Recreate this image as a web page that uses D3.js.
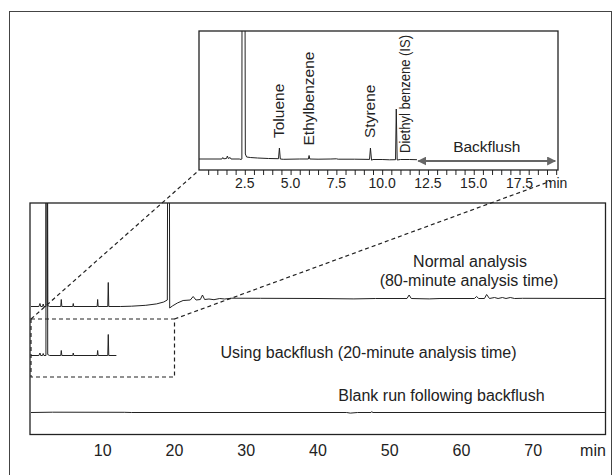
<!DOCTYPE html>
<html>
<head>
<meta charset="utf-8">
<script src="https://cdn.jsdelivr.net/npm/d3@7"></script>
<style>
  body { margin: 0; background: #fff; }
  svg { display: block; font-family: "Liberation Sans", Arial, Helvetica, sans-serif; }
</style>
</head>
<body>
<svg id="chart" width="614" height="475"></svg>
<script>
// ---- data (time in min, signal in arbitrary units) ----
const mainTicks = [10, 20, 30, 40, 50, 60, 70];
const insetTicks = [2.5, 5.0, 7.5, 10.0, 12.5, 15.0, 17.5];

// normal analysis, 80 min run
const normalRun = [
  [0, 128], [1.1, 128], [1.25, 131], [1.35, 128], [1.6, 128], [1.7, 130.5], [1.8, 128],
  [2.08, 128], [2.1, 300], [2.3, 300], [2.33, 129], [2.6, 128],
  [4.15, 128], [4.22, 135], [4.3, 128], [5.82, 128], [5.89, 131], [5.96, 128],
  [9.22, 128], [9.29, 135], [9.36, 128], [10.7, 128], [10.77, 152], [10.84, 128],
  [12.5, 128], [14, 128.3], [16, 129.2], [17.5, 130.6], [18.5, 132.5], [19.0, 134.5],
  [19.05, 300], [19.28, 300], [19.33, 126.5], [19.7, 128.5], [20.4, 131.5], [21.2, 134],
  [22.2, 134.5], [22.6, 138], [23.0, 134.5], [23.6, 135], [23.9, 139.5], [24.2, 135],
  [24.8, 135.5], [25.5, 134.8], [26.3, 136], [27, 135.5], [28, 136.3], [32, 136.2],
  [40, 136], [45, 135.6], [48, 136], [52.4, 136], [52.7, 139.5], [53.0, 136],
  [55.5, 135.6], [57, 136], [61.8, 136], [62.1, 138], [62.4, 136], [63.2, 136],
  [63.5, 140], [63.9, 136], [64.6, 137], [65.1, 136], [65.7, 137], [66.2, 136],
  [66.8, 137], [67.4, 136], [68.5, 136.2], [80, 136]
];

// backflush run, analysis stops at ~12 min
const backflushRun = [
  [0, 79], [1.1, 79], [1.25, 81.5], [1.35, 79], [1.6, 79], [1.7, 81], [1.8, 79],
  [2.08, 79], [2.1, 300], [2.3, 300], [2.33, 80], [2.6, 79],
  [4.15, 79], [4.22, 84], [4.3, 79], [5.82, 79], [5.89, 81.5], [5.96, 79],
  [9.22, 79], [9.29, 84], [9.36, 79], [10.7, 79], [10.77, 100], [10.84, 79], [11.9, 79]
];

// blank run following backflush
const blankRun = [
  [0, 22], [3, 22.3], [13, 22.2], [14, 22], [44, 22], [44.5, 21.4], [45.5, 22],
  [47.4, 22], [47.5, 23], [47.6, 22], [80, 22]
];

// inset: zoom of the backflush run (0-20 min)
const insetRun = [
  [0, 11], [1.25, 11], [1.3, 12.5], [1.35, 11.2], [1.5, 11.5], [1.55, 14], [1.6, 11.5],
  [1.7, 12.5], [1.75, 11], [2.2, 11], [2.3, 10.5], [2.34, 11], [2.35, 200], [2.51, 200],
  [2.53, 16], [2.6, 13], [2.8, 12.5], [3.2, 12], [3.8, 11.5], [4.34, 11.3], [4.39, 22],
  [4.44, 11], [4.6, 10.7], [5.5, 11], [5.97, 11], [6.01, 14.5], [6.05, 11], [6.5, 10.8],
  [7.2, 11], [7.5, 11.2], [7.6, 10.8], [8.5, 10.8], [9.31, 10.6], [9.36, 22], [9.42, 9.8],
  [9.5, 10.5], [10.0, 10.5], [10.4, 10.2], [10.73, 10.3], [10.77, 61], [10.82, 10],
  [11.0, 10.5], [11.5, 10.5], [11.9, 10.3]
];

const compounds = ["Toluene", "Ethylbenzene", "Styrene", "Diethyl benzene (IS)"];
const compoundTimes = [4.39, 6.01, 9.36, 10.77];
const backflushRange = [11.97, 19.45];
const zoomWindow = [0, 20];

// ---- layout ----
const svg = d3.select("#chart");
const ink = "#222";

const mx = d3.scaleLinear().domain([0, 80]).range([31, 605]);
const my = d3.scaleLinear().domain([0, 231.5]).range([434.5, 203]);
const ix = d3.scaleLinear().domain([0, 19.6]).range([199, 558]);
const iy = d3.scaleLinear().domain([0, 139]).range([170, 31]);

// outer frame
svg.append("rect")
  .attr("x", 9.5).attr("y", 11.5).attr("width", 602).attr("height", 470)
  .attr("fill", "none").attr("stroke", "#444").attr("stroke-width", 1);

const defs = svg.append("defs");
defs.append("clipPath").attr("id", "clipMain")
  .append("rect").attr("x", 30).attr("y", 203).attr("width", 575.5).attr("height", 231.5);
defs.append("clipPath").attr("id", "clipInset")
  .append("rect").attr("x", 199).attr("y", 31).attr("width", 359).attr("height", 139);
defs.append("marker").attr("id", "arr")
  .attr("viewBox", "0 0 10 10").attr("refX", 9).attr("refY", 5)
  .attr("markerWidth", 4.5).attr("markerHeight", 4.5).attr("orient", "auto-start-reverse")
  .append("path").attr("d", "M0,0L10,5L0,10Z").attr("fill", "#666");

// ---- main chromatograms ----
const mainLine = d3.line().x(d => mx(d[0])).y(d => my(d[1]));
const gMain = svg.append("g").attr("clip-path", "url(#clipMain)");
[normalRun, backflushRun, blankRun].forEach(run => {
  gMain.append("path").datum(run)
    .attr("d", mainLine)
    .attr("fill", "none").attr("stroke", ink).attr("stroke-width", 1);
});

svg.append("rect")
  .attr("x", 30).attr("y", 203).attr("width", 575.5).attr("height", 231.5)
  .attr("fill", "none").attr("stroke", ink).attr("stroke-width", 1.3);

svg.append("g").selectAll("text").data(mainTicks).join("text")
  .attr("x", d => mx(d)).attr("y", 456)
  .attr("text-anchor", "middle").attr("font-size", 16).attr("fill", ink)
  .text(d => d);
svg.append("text").attr("x", 593).attr("y", 456)
  .attr("text-anchor", "middle").attr("font-size", 16).attr("fill", ink).text("min");

const notes = [
  ["Normal analysis", 470, 267],
  ["(80-minute analysis time)", 469, 286],
  ["Using backflush (20-minute analysis time)", 368.5, 358],
  ["Blank run following backflush", 441.5, 401]
];
svg.append("g").selectAll("text").data(notes).join("text")
  .attr("x", d => d[1]).attr("y", d => d[2])
  .attr("text-anchor", "middle").attr("font-size", 16).attr("fill", ink)
  .text(d => d[0]);

// ---- zoom window and connecting lines ----
const boxTop = 319, boxBottom = 377;
const dash = "4,3";
svg.append("rect")
  .attr("x", mx(zoomWindow[0])).attr("y", boxTop)
  .attr("width", mx(zoomWindow[1]) - mx(zoomWindow[0])).attr("height", boxBottom - boxTop)
  .attr("fill", "none").attr("stroke", ink).attr("stroke-width", 1.2)
  .attr("stroke-dasharray", dash);
svg.append("line")
  .attr("x1", mx(zoomWindow[0])).attr("y1", boxTop).attr("x2", ix(0) - 2).attr("y2", 172)
  .attr("stroke", ink).attr("stroke-width", 1.2).attr("stroke-dasharray", dash);
svg.append("line")
  .attr("x1", mx(zoomWindow[1])).attr("y1", boxTop).attr("x2", 551).attr("y2", 181)
  .attr("stroke", ink).attr("stroke-width", 1.2).attr("stroke-dasharray", dash);

// ---- inset ----
svg.append("rect")
  .attr("x", 199).attr("y", 31).attr("width", 359).attr("height", 139)
  .attr("fill", "#fff").attr("stroke", "none");

const insetLine = d3.line().x(d => ix(d[0])).y(d => iy(d[1]));
svg.append("g").attr("clip-path", "url(#clipInset)")
  .append("path").datum(insetRun)
  .attr("d", insetLine)
  .attr("fill", "none").attr("stroke", ink).attr("stroke-width", 1);

svg.append("rect")
  .attr("x", 199).attr("y", 31).attr("width", 359).attr("height", 139)
  .attr("fill", "none").attr("stroke", ink).attr("stroke-width", 1.3);

// inset axis: ticks every 0.5 min
svg.append("g").attr("transform", "translate(0,170)")
  .call(d3.axisBottom(ix).tickValues(d3.range(0.5, 19.6, 0.5)).tickSize(5).tickFormat(""))
  .call(g => g.select(".domain").remove())
  .call(g => g.selectAll("line").attr("stroke", ink));

svg.append("g").selectAll("text").data(insetTicks).join("text")
  .attr("x", d => ix(d)).attr("y", 188)
  .attr("text-anchor", "middle").attr("font-size", 14).attr("fill", ink)
  .text(d3.format(".1f"));
svg.append("text").attr("x", 556).attr("y", 188)
  .attr("text-anchor", "middle").attr("font-size", 14).attr("fill", ink).text("min");

// compound labels (rotated)
compounds.forEach((name, i) => {
  const t = compoundTimes[i];
  const top = d3.max(insetRun.filter(d => Math.abs(d[0] - t) < 0.1), d => d[1]);
  const last = i === compounds.length - 1;
  const x = ix(t) + (last ? 14 : 5);
  const y = last ? iy(11) - 6 : iy(top) - 10;
  const txt = svg.append("text")
    .attr("transform", `translate(${x},${y}) rotate(-90)`)
    .attr("font-size", 15.5).attr("fill", ink)
    .text(name);
  if (last) txt.attr("textLength", 118).attr("lengthAdjust", "spacingAndGlyphs");
});

// backflush arrow
svg.append("line")
  .attr("x1", ix(backflushRange[0])).attr("x2", ix(backflushRange[1]))
  .attr("y1", 161).attr("y2", 161)
  .attr("stroke", "#666").attr("stroke-width", 2)
  .attr("marker-start", "url(#arr)").attr("marker-end", "url(#arr)");
svg.append("text")
  .attr("x", (ix(backflushRange[0]) + ix(backflushRange[1])) / 2).attr("y", 152)
  .attr("text-anchor", "middle").attr("font-size", 15.5).attr("fill", ink)
  .text("Backflush");
</script>
</body>
</html>
